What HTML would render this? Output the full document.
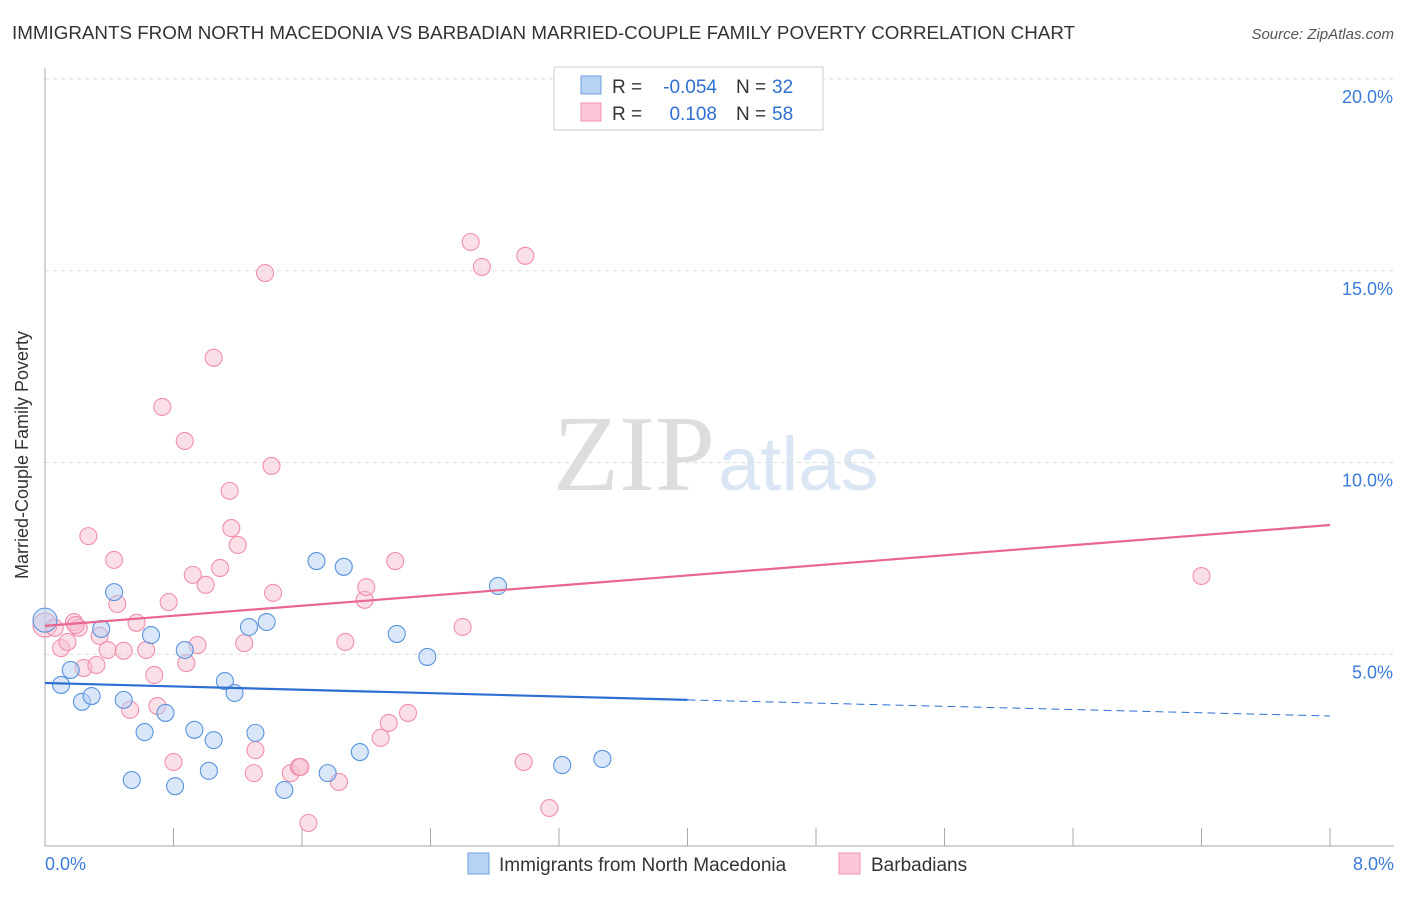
<!DOCTYPE html>
<html><head><meta charset="utf-8"><style>
body{margin:0;background:#fff;font-family:"Liberation Sans",sans-serif}
</style></head><body>
<svg id="c" width="1406" height="892" xmlns="http://www.w3.org/2000/svg" style="font-family:'Liberation Sans',sans-serif">
<text x="12" y="39" font-size="18.8" fill="#333">IMMIGRANTS FROM NORTH MACEDONIA VS BARBADIAN MARRIED-COUPLE FAMILY POVERTY CORRELATION CHART</text>
<text x="1394" y="39" font-size="15" fill="#555" font-style="italic" text-anchor="end">Source: ZipAtlas.com</text>
<text x="28" y="455" font-size="18" fill="#333" text-anchor="middle" transform="rotate(-90 28 455)">Married-Couple Family Poverty</text>
<text x="715" y="490" font-size="108" fill="#ddd" text-anchor="end" font-family="Liberation Serif">ZIP</text>
<text x="718" y="490" font-size="76" fill="#dbe6f4">atlas</text>
<g id="grid"></g><g id="pts"></g><g id="trend"></g>
<g>
<rect x="554" y="67" width="269" height="63" fill="#fff" stroke="#ccc"/>
<rect x="581" y="76" width="20" height="18" fill="#b9d3f5" stroke="#6fa0e0"/>
<rect x="581" y="103" width="20" height="18" fill="#fbc7d6" stroke="#f096b1"/>
<text x="612" y="93" font-size="19" fill="#333">R =</text>
<text x="717" y="93" font-size="19" fill="#2f6fd1" text-anchor="end">-0.054</text>
<text x="736" y="93" font-size="19" fill="#333">N =</text>
<text x="772" y="93" font-size="19" fill="#2f6fd1">32</text>
<text x="612" y="120" font-size="19" fill="#333">R =</text>
<text x="717" y="120" font-size="19" fill="#2f6fd1" text-anchor="end">0.108</text>
<text x="736" y="120" font-size="19" fill="#333">N =</text>
<text x="772" y="120" font-size="19" fill="#2f6fd1">58</text>
</g>
<g>
<rect x="468" y="853" width="21" height="21" fill="#b9d3f5" stroke="#6fa0e0"/>
<text x="499" y="871" font-size="19" fill="#333">Immigrants from North Macedonia</text>
<rect x="839" y="853" width="21" height="21" fill="#fbc7d6" stroke="#f096b1"/>
<text x="871" y="871" font-size="19" fill="#333">Barbadians</text>
</g>
</svg>
<script>
const blueX=[0,0.10,0.16,0.23,0.29,0.35,0.43,0.49,0.54,0.62,0.66,0.75,0.81,0.87,0.93,1.02,1.05,1.12,1.18,1.27,1.31,1.38,1.49,1.69,1.76,1.86,1.96,2.19,2.38,2.82,3.22,3.47];
const blueY=[5.89,4.20,4.59,3.76,3.91,5.66,6.62,3.81,1.72,2.97,5.50,3.47,1.56,5.11,3.03,1.96,2.76,4.30,3.99,5.71,2.95,5.84,1.46,7.43,1.90,7.28,2.45,5.53,4.93,6.78,2.11,2.27];
const pinkX=[0,0.06,0.10,0.14,0.18,0.21,0.24,0.27,0.32,0.34,0.39,0.43,0.45,0.49,0.53,0.57,0.63,0.68,0.70,0.73,0.77,0.80,0.87,0.88,0.92,0.95,1.00,1.05,1.09,1.15,1.16,1.20,1.24,1.30,1.31,1.37,1.41,1.42,1.53,1.58,1.59,1.64,1.83,1.87,1.99,2.00,2.09,2.14,2.18,2.26,2.60,2.65,2.72,2.98,2.99,3.14,7.20,0.19];
const pinkY=[5.76,5.69,5.16,5.32,5.84,5.69,4.64,8.08,4.72,5.48,5.11,7.46,6.31,5.09,3.55,5.82,5.11,4.46,3.65,11.45,6.36,2.19,10.56,4.77,7.07,5.24,6.81,12.73,7.25,9.26,8.29,7.85,5.29,1.90,2.50,14.94,9.91,6.60,1.90,2.06,2.06,0.60,1.67,5.32,6.42,6.75,2.82,3.21,7.43,3.47,5.71,15.75,15.10,2.19,15.39,0.99,7.04,5.76];
const yTicks=[5,10,15,20];
const xTicks=[0,0.8,1.6,2.4,3.2,4.0,4.8,5.6,6.4,7.2,8.0];
const blueTrend=[4.25,3.81,3.39];
const pinkTrend=[5.74,8.37];
const X=v=>45+v/8*1285, Y=v=>846-v*38.35;
const NS='http://www.w3.org/2000/svg';
function mk(t,a,p){const e=document.createElementNS(NS,t);for(const k in a)e.setAttribute(k,a[k]);p.appendChild(e);return e;}
const g=document.getElementById('grid');
yTicks.forEach(v=>{const l=mk('line',{x1:45,x2:1394,y1:Y(v),y2:Y(v),stroke:'#ddd','stroke-dasharray':'4,4'},g);


const t=mk('text',{x:1393,y:Y(v)+24,'font-size':18,fill:'#3b7bd9','text-anchor':'end'},g);t.textContent=v.toFixed(1)+'%';

});
const ax=mk('line',{x1:45,x2:45,y1:68,y2:846,stroke:'#aaa'},g);


const bx=mk('line',{x1:45,x2:1394,y1:846,y2:846,stroke:'#aaa'},g);


xTicks.forEach(v=>{const l=mk('line',{x1:X(v),x2:X(v),y1:828,y2:846,stroke:'#aaa'},g);

});
[[0,'start',45],[8,'end',1394]].forEach(([v,a,x])=>{const t=mk('text',{x:x,y:870,'font-size':18,fill:'#3b7bd9','text-anchor':a},g);t.textContent=v.toFixed(1)+'%';

});
const p=document.getElementById('pts');
function pts(xs,ys,fill,stroke,name){xs.forEach((x,i)=>{const r=i===0?12:8.5;const c=mk('circle',{cx:X(x),cy:Y(ys[i]),r:r,fill:fill,'fill-opacity':0.5,stroke:stroke,'stroke-width':1.1},p);

});}
pts(pinkX,pinkY,'#f8bfd0','#f08fac','barbadian-point');
pts(blueX,blueY,'#b3cff3','#5b93dd','macedonia-point');
const tr=document.getElementById('trend');
const b1=mk('line',{x1:X(0),y1:Y(blueTrend[0]),x2:X(4),y2:Y(blueTrend[1]),stroke:'#2f6fd1','stroke-width':2.2},tr);


const b2=mk('line',{x1:X(4),y1:Y(blueTrend[1]),x2:X(8),y2:Y(blueTrend[2]),stroke:'#2f6fd1','stroke-width':1,'stroke-dasharray':'8,5'},tr);


const p1=mk('line',{x1:X(0),y1:Y(pinkTrend[0]),x2:X(8),y2:Y(pinkTrend[1]),stroke:'#e8668f','stroke-width':2.2},tr);


</script>
</body></html>
